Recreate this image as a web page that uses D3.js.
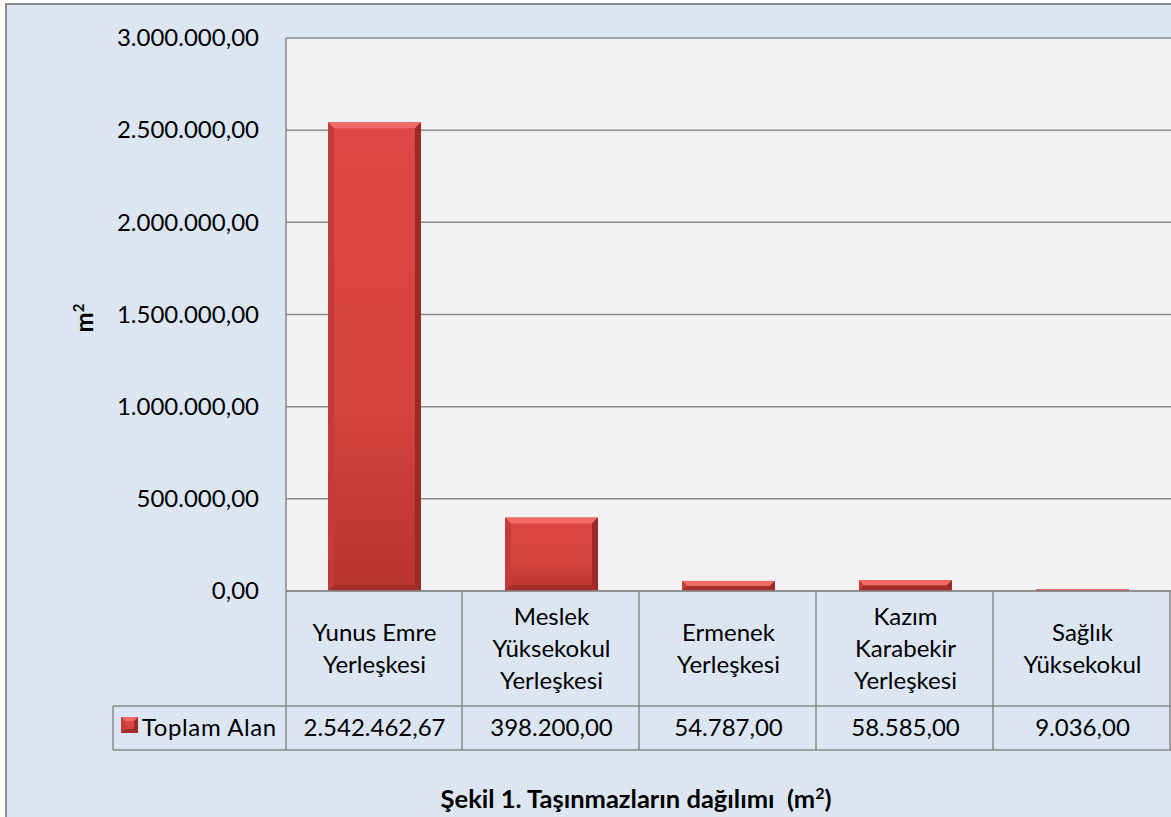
<!DOCTYPE html>
<html>
<head>
<meta charset="utf-8">
<script src="https://cdn.jsdelivr.net/npm/d3@7"></script>
<style>
    body { margin: 0; background: #fff; }
    text { font-family: Lato, "Open Sans", sans-serif; fill: #000; white-space: pre; }
</style>
</head>
<body>
<div class="container"></div>
<script>
const WIDTH = 1171;
const HEIGHT = 817;

// chart data
const categories = [
    "Yunus Emre\nYerleşkesi",
    "Meslek\nYüksekokul\nYerleşkesi",
    "Ermenek\nYerleşkesi",
    "Kazım\nKarabekir\nYerleşkesi",
    "Sağlık\nYüksekokul"
];
const values = [2542462.67, 398200.00, 54787.00, 58585.00, 9036.00];
const yTicks = [0, 500000, 1000000, 1500000, 2000000, 2500000, 3000000];
const seriesName = "Toplam Alan";
const yLabel = "m";
const title = "Şekil 1. Taşınmazların dağılımı  (m";

const PLOT_LEFT = 286, PLOT_RIGHT = 1171, PLOT_TOP = 38, PLOT_BOTTOM = 591;
const HEADER_BOTTOM = 706, ROW_BOTTOM = 750, LEGEND_LEFT = 113;
const GRID = "#8a8a8a";
const FS = '24px';

var translate = function (x, y) {
    return "translate(" + x + "," + y + ")";
};

var trLocale = d3.formatLocale({decimal: ",", thousands: ".", grouping: [3], currency: ["", ""]});
var fmt = trLocale.format(",.2f");

var svg = d3.select('.container').append('svg')
    .attr('width', WIDTH)
    .attr('height', HEIGHT);

// chart background + outer border
svg.append('rect')
    .attr('x', 6).attr('y', 4)
    .attr('width', WIDTH + 10).attr('height', HEIGHT + 10)
    .attr('fill', '#dce6f2')
    .attr('stroke', '#8c8c8c')
    .attr('stroke-width', 2);

var xScale = d3.scaleBand()
    .domain(categories)
    .range([PLOT_LEFT, PLOT_RIGHT])
    .padding(0);

var yScale = d3.scaleLinear()
    .domain([0, 3000000])
    .range([PLOT_BOTTOM, PLOT_TOP]);

// plot area
svg.append('rect')
    .attr('x', PLOT_LEFT).attr('y', PLOT_TOP)
    .attr('width', PLOT_RIGHT - PLOT_LEFT + 5).attr('height', PLOT_BOTTOM - PLOT_TOP)
    .attr('fill', '#f2f2f2');

svg.selectAll('.grid')
    .data(yTicks)
    .enter().append('line')
    .attr('x1', PLOT_LEFT).attr('x2', PLOT_RIGHT)
    .attr('y1', function (d) { return yScale(d); })
    .attr('y2', function (d) { return yScale(d); })
    .attr('stroke', GRID)
    .attr('stroke-width', 1.5);

svg.append('line')
    .attr('x1', PLOT_LEFT).attr('x2', PLOT_LEFT)
    .attr('y1', PLOT_TOP).attr('y2', ROW_BOTTOM)
    .attr('stroke', GRID).attr('stroke-width', 1.5);

var yAxis = d3.axisLeft(yScale)
    .tickValues(yTicks)
    .tickSize(0)
    .tickPadding(27)
    .tickFormat(fmt);

var yG = svg.append('g')
    .attr('transform', translate(PLOT_LEFT, 0))
    .call(yAxis);
yG.select('.domain').remove();
yG.selectAll('text')
    .style('font-family', 'Lato, sans-serif')
    .style('font-size', FS)
    .attr('fill', '#000');

// bevelled bar
var drawBevel = function (g, x0, x1, y0, y1, bv) {
    var b = Math.min(bv, (y1 - y0) / 2, (x1 - x0) / 2);
    g.append('rect')
        .attr('x', x0).attr('y', y0)
        .attr('width', x1 - x0).attr('height', y1 - y0)
        .attr('fill', 'url(#barFace)');
    var poly = function (pts, col) {
        g.append('polygon')
            .attr('points', pts.map(function (p) { return p.join(','); }).join(' '))
            .attr('fill', col);
    };
    poly([[x0, y0], [x1, y0], [x1 - b, y0 + b], [x0 + b, y0 + b]], '#f16a66');
    poly([[x0, y0], [x0 + b, y0 + b], [x0 + b, y1 - b], [x0, y1]], '#c53b37');
    poly([[x1, y0], [x1, y1], [x1 - b, y1 - b], [x1 - b, y0 + b]], '#9b2a27');
    poly([[x0, y1], [x0 + b, y1 - b], [x1 - b, y1 - b], [x1, y1]], '#a22f2c');
};

var defs = svg.append('defs');
var grad = defs.append('linearGradient').attr('id', 'barFace')
    .attr('x1', 0).attr('x2', 0).attr('y1', 0).attr('y2', 1);
grad.append('stop').attr('offset', '0%').attr('stop-color', '#dc4845');
grad.append('stop').attr('offset', '60%').attr('stop-color', '#d6443f');
grad.append('stop').attr('offset', '100%').attr('stop-color', '#b7342f');

var barW = xScale.bandwidth() * 0.525;
var bars = svg.append('g');
categories.forEach(function (c, i) {
    var cx = xScale(c) + xScale.bandwidth() / 2;
    drawBevel(bars, cx - barW / 2, cx + barW / 2, yScale(values[i]), yScale(0), 6);
});

// data table
var table = svg.append('g');
[HEADER_BOTTOM, ROW_BOTTOM].forEach(function (yy) {
    table.append('line')
        .attr('x1', LEGEND_LEFT).attr('x2', PLOT_RIGHT)
        .attr('y1', yy).attr('y2', yy)
        .attr('stroke', GRID).attr('stroke-width', 1.5);
});
table.append('line')
    .attr('x1', PLOT_LEFT).attr('x2', PLOT_RIGHT)
    .attr('y1', PLOT_BOTTOM).attr('y2', PLOT_BOTTOM)
    .attr('stroke', GRID).attr('stroke-width', 1.5);
table.append('line')
    .attr('x1', LEGEND_LEFT).attr('x2', LEGEND_LEFT)
    .attr('y1', HEADER_BOTTOM).attr('y2', ROW_BOTTOM)
    .attr('stroke', GRID).attr('stroke-width', 1.5);
categories.forEach(function (c) {
    var xr = xScale(c) + xScale.bandwidth();
    table.append('line')
        .attr('x1', xr - 1).attr('x2', xr - 1)
        .attr('y1', PLOT_BOTTOM).attr('y2', ROW_BOTTOM)
        .attr('stroke', GRID).attr('stroke-width', 1.5);
});

categories.forEach(function (c, i) {
    var cx = xScale(c) + xScale.bandwidth() / 2;
    var lines = c.split('\n');
    var lh = 32;
    var midY = (PLOT_BOTTOM + HEADER_BOTTOM) / 2;
    var t = table.append('text')
        .attr('text-anchor', 'middle')
        .style('font-size', FS);
    lines.forEach(function (ln, k) {
        t.append('tspan')
            .attr('x', cx)
            .attr('y', midY + (k - (lines.length - 1) / 2) * lh)
            .attr('dy', '0.35em')
            .text(ln);
    });
    table.append('text')
        .attr('x', cx)
        .attr('y', (HEADER_BOTTOM + ROW_BOTTOM) / 2)
        .attr('dy', '0.35em')
        .attr('text-anchor', 'middle')
        .style('font-size', FS)
        .text(fmt(values[i]));
});

// legend key
drawBevel(table, 121, 138, 717, 733, 4);
table.append('text')
    .attr('x', 142)
    .attr('y', (HEADER_BOTTOM + ROW_BOTTOM) / 2)
    .attr('dy', '0.35em')
    .style('font-size', FS)
    .style('letter-spacing', '0.6px')
    .text(seriesName);

// axis title
var yt = svg.append('text')
    .attr('transform', translate(93, 318) + ' rotate(-90)')
    .attr('text-anchor', 'middle')
    .style('font-size', FS)
    .style('font-weight', 'bold');
yt.append('tspan').text(yLabel);
yt.append('tspan').attr('baseline-shift', 'super').style('font-size', '15px').text('2');

// chart title
var tt = svg.append('text')
    .attr('x', 636)
    .attr('y', 808)
    .attr('text-anchor', 'middle')
    .style('font-size', '25.5px')
    .style('font-weight', 'bold');
tt.append('tspan').text(title);
tt.append('tspan').attr('baseline-shift', 'super').style('font-size', '16px').text('2');
tt.append('tspan').text(')');
</script>
</body>
</html>
